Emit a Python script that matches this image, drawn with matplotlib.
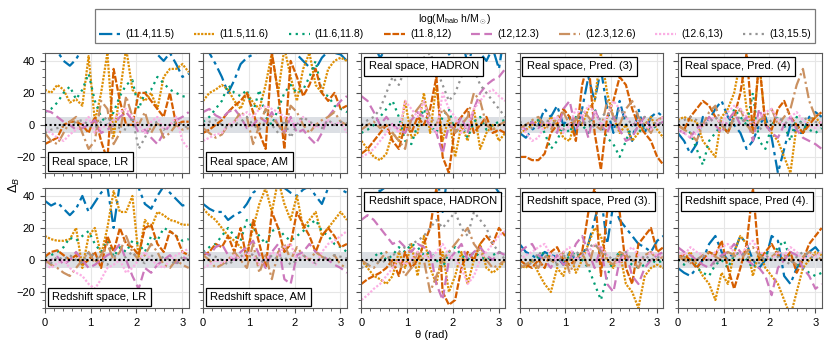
import numpy as np
import matplotlib.pyplot as plt

plt.rcParams['font.family'] = ['Liberation Sans', 'DejaVu Sans']
plt.rcParams['mathtext.fontset'] = 'custom'
plt.rcParams['mathtext.rm'] = 'Liberation Sans'
plt.rcParams['mathtext.it'] = 'Liberation Sans:italic'

bins = ["(11.4,11.5)", "(11.5,11.6)", "(11.6,11.8)", "(11.8,12)",
        "(12,12.3)", "(12.3,12.6)", "(12.6,13)", "(13,15.5)"]
colors = ['#0173b2', '#de8f05', '#029e73', '#d55e00',
          '#cc78bc', '#ca9161', '#fbafe4', '#949494']
styles = [(0, (6, 2, 1.5, 2)), (0, (1, 0.6)), (0, (1, 2)), (0, (3, 0.8)),
          (0, (4, 2)), (0, (5, 1.5, 1, 1.5)), (0, (1, 0.8)), (0, (1, 1.8))]

theta = np.linspace(0, np.pi, 24)

# values of Delta_B per mass bin, one list per bin
real_lr = [
    [50, 48, 46, 40, 37, 41, 48, 55, 60, 58, 52, 55, 60, 50, 48, 55, 50, 47, 44, 40, 45, 38, 30, 32],
    [22, 20, 25, 22, 14, 16, 12, 43, 2, 20, 45, -8, 20, 48, 22, 18, 15, 20, 10, 30, 35, 35, 38, 33],
    [8, 10, 14, 20, 24, 16, 22, 32, 15, 5, 0, 8, 18, 25, 28, 10, 20, 22, 30, 26, 22, 20, 18, 17],
    [-12, -10, -8, 0, 2, 2, 0, -5, 5, -10, -22, 35, 15, 0, 0, 20, 20, 15, 10, 5, 20, 0, 2, 2],
    [9, 8, 5, 2, 0, -3, -2, 0, 3, -5, -3, 0, 5, 8, 3, -5, -3, -8, -12, -5, 0, 3, 5, 8],
    [-5, -10, -12, -5, 2, 5, -5, -15, -10, 15, 10, -12, -5, 18, 5, 0, 8, -5, 2, -8, -5, 0, -3, -2],
    [-3, -5, -8, -10, -6, -3, 0, 5, -5, -2, 0, 3, 8, 10, 5, 0, -5, 2, 5, -3, 0, 5, -10, -15],
    [-5, -3, -2, 0, 0, 2, 3, 0, -2, 2, 5, 0, -2, -3, 5, -15, -8, 0, 2, -3, 0, 2, 0, -2],
]
real_am = [
    [48, 45, 38, 30, 20, 28, 38, 42, 44, 46, 48, 50, 52, 50, 48, 44, 40, 36, 35, 42, 46, 45, 44, 40],
    [15, 20, 22, 25, 22, 15, 10, 20, 14, 10, 25, 45, 20, 48, 30, 15, 35, 45, 25, 20, 35, 40, 42, 40],
    [2, 5, 10, 15, 25, 20, 18, 22, 8, 22, 5, 0, 10, 20, 25, 20, 22, 30, 40, 20, 18, 12, 10, 8],
    [-5, -3, 0, 3, 8, 12, 15, 20, 8, -5, -15, 45, 20, -15, 40, 30, 18, 25, 35, 20, 15, 20, 10, 12],
    [8, 10, 6, 4, 8, 10, 5, -2, 0, 5, 2, 8, 0, -5, 5, -5, -3, -8, -12, -5, 5, 10, 15, 18],
    [-2, -5, -8, -6, 0, 2, 8, 5, -12, 0, 10, 5, 0, -5, 12, 8, 0, -5, 0, 3, 5, 8, 2, 0],
    [-10, -8, -6, -5, 0, 2, 5, 8, 5, 10, 12, 10, 8, 5, 3, 0, 5, 2, -2, 0, 3, 0, 2, -5],
    [0, 2, 3, 0, -2, 0, 2, 5, 0, -3, 2, 0, -5, 3, -8, 0, 5, 2, 0, -2, 3, 0, 2, 1],
]
real_hadron = [
    [60, 55, 50, 42, 48, 55, 60, 65, 60, 55, 58, 60, 55, 50, 44, 48, 55, 38, 50, 45, 40, 48, 35, 60],
    [-10, -15, -20, -22, -18, -5, -10, 15, -8, -5, 20, -5, 25, -10, 5, -20, 0, -10, 10, -15, -5, 0, -10, -5],
    [-5, -3, 0, 5, 10, 15, 5, -10, -12, 0, 10, 0, -5, 5, 10, -5, 0, -8, 2, 5, -3, 0, 2, 3],
    [-18, -15, -10, -5, 0, -10, -15, 0, -5, 5, 0, 10, 30, -20, -30, 0, 5, 10, -5, 0, 5, -5, -3, -5],
    [18, 15, 8, 0, 5, 0, -3, -5, 3, 8, 5, 0, -5, -18, 0, -3, 5, -5, 10, 20, 25, 28, 30, 35],
    [-3, 0, 2, -2, 0, -5, -10, -15, 5, 10, 15, 5, 0, 10, 5, -5, 0, 5, 20, 15, 0, -3, 0, 2],
    [-20, -18, -15, -10, -5, 0, -5, 15, 10, 5, 15, 0, -5, 20, 10, 5, -5, 0, 10, 15, 20, 22, 18, 15],
    [0, 3, 5, 10, 20, 30, 25, 35, 40, 38, 42, 45, 35, 25, 15, 20, 30, 45, 35, 25, 20, 15, 10, 5],
]
real_pred3 = [
    [-5, -8, -3, 0, 10, 5, 12, 0, 5, -5, 10, 30, 15, 35, 10, -5, 15, 0, -10, 10, -5, 5, 8, 5],
    [-5, -3, 0, 3, -2, 5, 0, -8, -10, 5, 0, 10, 15, 45, 20, 5, -5, 0, -10, -5, 0, 5, -3, -8],
    [-3, 0, 2, 3, -5, -15, -10, 0, -5, 5, 0, -5, 10, 0, -8, -12, -20, -10, 0, -5, 0, -3, 0, 2],
    [-20, -20, -22, -22, -18, -5, 0, 10, 5, -10, 25, 40, -5, -28, 5, 15, 30, 25, 10, 0, -5, -10, -20, -25],
    [0, -3, 2, -2, 3, 0, -5, 10, 15, -3, 5, -8, 10, 0, -5, 5, -3, -10, -8, 0, 5, -2, 0, 2],
    [-2, 0, 3, 5, 0, -3, 5, 8, 0, 3, 10, 5, 0, -3, 15, 5, 0, 10, 15, 5, 0, -5, 3, 5],
    [0, -5, -10, -8, 0, 3, 5, -5, 0, 10, 5, 12, 8, 0, 5, 15, 10, 5, 0, 3, 0, -3, 2, 5],
    [2, 0, -2, 0, 3, 2, 0, -3, 2, 5, 0, 3, -2, 5, 8, 3, 10, 5, 0, 2, 5, 3, 0, 2],
]
real_pred4 = [
    [-5, -10, -18, -12, 5, 3, 10, 15, 5, 0, -5, -15, -10, 0, 5, -8, -30, -15, 0, -5, -5, 5, 8, 5],
    [3, 5, 3, 2, -10, -15, -20, 5, 10, 20, 40, 10, -5, 40, 0, -5, -10, -20, -30, 0, -5, 3, 5, 0],
    [0, -2, -5, -15, -25, -10, -5, 0, -5, 10, 5, 0, 20, -10, -15, 0, 5, 0, -10, 5, 0, -3, -5, -2],
    [0, -3, 5, 10, 15, 12, 5, 0, -5, 5, 20, 45, -5, 40, 0, -3, 10, 15, 5, 0, -5, 0, 5, 8],
    [-3, -5, -8, -2, 0, 5, 0, -5, 3, 8, 0, 5, -10, 10, 0, -5, -8, 0, 5, -3, -8, -10, -12, -15],
    [0, -3, -5, -10, 0, 8, 12, 0, -5, 5, 10, 0, -5, 3, 5, 10, 0, 5, 10, 25, 35, 15, 5, 8],
    [-3, -5, -8, -5, 0, 3, 5, 0, 8, 12, 10, 5, 0, 5, 8, 10, 3, 0, 5, 8, 3, 0, -2, 2],
    [2, 3, 5, 3, 0, 2, 5, 0, -2, 3, 5, 0, 2, -3, 0, 3, 5, 2, 0, -2, 3, 5, 2, 0],
]
red_lr = [
    [37, 34, 36, 32, 28, 32, 40, 30, 36, 42, 46, 20, 48, 50, 46, 45, 35, 32, 40, 46, 42, 38, 34, 35],
    [15, 13, 12, 12, 13, 20, -5, 15, 20, 3, 20, 43, 30, 30, 40, 2, 25, 20, 30, 28, 25, 24, 22, 22],
    [2, 3, 5, 8, 14, 12, 15, 18, 10, 5, 12, 2, 8, 5, 12, 10, 5, 15, 12, 20, 18, 15, 12, 13],
    [2, 5, 6, 3, 0, 3, -3, 0, 5, -5, 15, 5, 20, 10, 8, 3, 20, 22, 10, 5, 18, 15, 5, 3],
    [-2, 0, 2, -3, 0, 5, 0, -5, -3, 0, 3, 5, 10, 0, -10, -18, -5, -8, -3, 0, 3, -2, 2, 0],
    [0, -3, -5, -8, -10, -5, 0, 5, -2, 3, 10, 0, 5, 15, 5, 0, 3, 10, 5, -3, -5, 0, -3, -5],
    [-3, -5, -2, 0, -5, -8, -10, -15, -18, -12, -5, -3, 0, -8, -5, 0, 5, 0, -3, -5, 0, 3, 5, 7],
    [0, -2, 2, 0, 3, 0, -2, 5, 2, 0, -3, 3, 0, 2, 5, 0, -2, 3, 0, 2, 0, -3, 2, 0],
]
red_am = [
    [35, 32, 30, 30, 25, 28, 30, 35, 42, 45, 48, 50, 48, 45, 42, 40, 44, 46, 40, 35, 45, 48, 44, 42],
    [32, 28, 25, 20, 15, 12, 8, 5, 20, 35, 45, 30, 50, 35, 25, 40, 20, 25, 30, 15, 20, 25, 30, 25],
    [5, 8, 10, 15, 20, 15, 12, 25, 20, 15, 10, 18, 20, 15, 12, 15, 18, 22, 25, 18, 15, 10, 8, 5],
    [3, 5, 10, 8, 15, 5, 20, 0, 25, 10, -5, 30, 20, 5, 10, 30, 22, 15, 5, 15, 20, 15, 8, 10],
    [5, 3, 8, 10, 3, 0, 5, 8, 12, 3, -5, 5, 10, -12, -15, 3, 5, 10, 5, 3, 0, -3, -5, -8],
    [3, 0, -5, -3, 0, 5, 0, -5, 10, -8, 3, -12, 5, 10, 0, 8, 3, 0, 5, 2, 0, 3, -3, -5],
    [-5, -3, 0, -2, 0, 3, 0, 5, 3, -3, 0, 5, 3, 8, 10, 0, 3, 0, -3, 5, 10, 12, 15, 18],
    [5, 3, 2, 0, -3, 0, 2, 5, 3, 0, -2, 3, 0, 2, -3, 0, 3, 0, -2, 2, 0, 3, 2, 1],
]
red_hadron = [
    [55, 50, 45, 43, 46, 50, 55, 60, 55, 50, 48, 60, 55, 30, 60, 55, 50, 48, 45, 50, 55, 48, 42, 40],
    [0, -5, -10, -12, -15, -10, 5, -5, 10, -10, 15, -5, -15, 5, -20, -10, 5, -15, 0, 10, -5, -8, -5, 0],
    [0, -3, 2, 5, 0, 3, 8, 5, 10, 8, 3, 5, 0, -5, 5, 8, 3, 0, 5, 2, 0, 3, 5, 3],
    [-15, -12, -10, -8, -5, 0, -10, 5, -5, 0, 10, 20, 45, -20, -28, -25, -5, 5, 0, 10, 15, 10, 20, 15],
    [25, 28, 25, 20, 15, 10, 12, 8, 5, 10, 8, 5, -15, -25, 0, 5, 10, 0, 5, 8, 3, 0, 5, 3],
    [0, -3, -5, 0, 5, -5, 0, -10, -5, 5, 0, -20, -10, 0, 5, 10, 15, 20, 10, 5, 0, -5, -3, 0],
    [-25, -22, -18, -15, -10, -5, 0, -3, 0, 5, 3, 0, 5, 10, 3, 0, -5, -15, -10, 0, 5, 10, 15, 18],
    [-5, -3, 0, -2, 0, 3, 5, 8, 10, 12, 15, 20, 25, 20, 25, 30, 20, 15, 30, 25, 20, 10, 5, 0],
]
red_pred3 = [
    [10, 5, 3, 0, 5, 3, 2, -3, 5, 0, 3, 10, 25, 40, 10, 35, 25, 20, 15, 10, 8, 5, 12, 15],
    [-3, -5, 0, -8, -15, -20, -5, -10, 5, -8, 0, 10, 20, 15, 0, -5, 5, -15, -20, -30, -10, -5, -3, -5],
    [-5, -3, 0, 2, 5, 0, -3, 0, 2, 5, 0, -5, -15, -25, -10, 0, 5, 0, -3, -5, -3, 0, -2, 0],
    [0, -3, -5, 0, -5, 5, 8, 0, -3, 0, 5, 30, 45, -10, 30, 35, 30, -5, -15, 10, 15, 20, 5, 8],
    [5, 8, 10, 3, 0, -5, 3, -3, 0, 10, 15, 5, -5, 8, -15, -20, 0, 5, -10, -15, -5, 0, 3, 5],
    [-5, -3, 0, -5, 3, 0, -3, 5, -8, 0, 5, -5, 10, 5, 0, -3, 5, 3, 0, -5, 3, 5, 0, 2],
    [0, 3, 5, 8, 10, 3, 0, 5, 8, 0, 3, 5, 10, 8, 3, 0, -3, 5, 8, 3, 0, 5, 3, 2],
    [3, 0, -3, 5, 2, 0, -2, 3, 0, 5, 3, 8, 10, 5, 3, 0, 2, 5, 0, -2, 3, 0, 2, 0],
]
red_pred4 = [
    [-5, -8, -10, -5, 0, 10, 15, 5, 0, 5, 15, 10, 0, -5, 0, 15, 12, -10, -15, -5, 0, 5, 8, 3],
    [2, 0, 5, -3, -10, -15, -25, -8, -15, 5, 15, 10, -10, 5, -5, -10, -15, -25, -35, -20, -5, 0, 5, 3],
    [0, -3, 2, -5, -8, -10, -3, 0, -5, 3, 5, 0, -5, 2, 5, 0, 8, 12, 0, -3, -5, -8, -10, -8],
    [2, 3, 0, -5, 0, 5, 3, 12, -5, -18, -5, 10, 45, 0, 5, 10, 3, 0, 5, -8, 0, 10, 15, 20],
    [8, 5, 3, 0, -3, -5, 0, 3, 5, 10, 5, 0, -3, -5, -10, -22, -5, 0, 5, 3, -5, -10, -18, -15],
    [3, 0, -2, 0, 3, 5, 2, 0, 5, 3, 0, 5, 8, 3, 0, 2, 5, 3, 0, -3, 2, 5, 3, 0],
    [5, 3, 8, 5, 3, 0, 5, 8, 10, 5, 3, 8, 12, 5, 3, 0, 5, 3, 8, 5, 0, 3, 2, 5],
    [0, 2, -2, 0, 3, 0, -3, 2, 0, 3, 5, 2, 0, -2, 3, 0, 2, 0, -3, 2, 5, 3, 0, 2],
]

panels = [[real_lr, real_am, real_hadron, real_pred3, real_pred4],
          [red_lr, red_am, red_hadron, red_pred3, red_pred4]]
titles = [["Real space, LR", "Real space, AM", "Real space, HADRON",
           "Real space, Pred. (3)", "Real space, Pred. (4)"],
          ["Redshift space, LR", "Redshift space, AM", "Redshift space, HADRON",
           "Redshift space, Pred (3).", "Redshift space, Pred (4)."]]

fig, axes = plt.subplots(2, 5, figsize=(8.3, 3.48), dpi=100, sharex=True, sharey=True)
fig.subplots_adjust(left=0.054, right=0.99, top=0.848, bottom=0.115,
                    wspace=0.1, hspace=0.125)

for r in range(2):
    for c in range(5):
        ax = axes[r, c]
        ax.axhspan(-5, 5, color='#dcdfe4', zorder=0, lw=0)
        ax.grid(True, color='#e6e6e6', lw=0.8, zorder=0)
        for k in range(8):
            ax.plot(theta, panels[r][c][k], color=colors[k], ls=styles[k],
                    lw=1.6, label=bins[k])
        ax.axhline(0, color='black', ls=(0, (1, 1.2)), lw=1.5, zorder=5)
        ax.set_xlim(0, np.pi)
        ax.set_ylim(-30, 45)
        ax.set_yticks([-20, 0, 20, 40])
        ax.set_xticks([0, 1, 2, 3])
        ax.minorticks_on()
        ax.tick_params(which='both', direction='out', labelsize=8, color='0.3')
        ax.tick_params(which='major', length=3.5)
        ax.tick_params(which='minor', length=2)
        for s in ax.spines.values():
            s.set_color('0.35')
        ypos, va = (0.05, 'bottom') if c < 2 else (0.93, 'top')
        ax.text(0.05, ypos, titles[r][c], transform=ax.transAxes, fontsize=8,
                va=va, ha='left', zorder=10,
                bbox=dict(boxstyle='square,pad=0.4', fc='white', ec='black', lw=0.9))

handles, labels = axes[0, 0].get_legend_handles_labels()
leg = fig.legend(handles, labels, loc='upper center', bbox_to_anchor=(0.548, 0.99),
                 ncol=8, fontsize=7.5, title=r'log(M$_{\rm halo}$ h/M$_\odot$)',
                 title_fontsize=7.5, fancybox=False, edgecolor='0.35',
                 handlelength=2.0, columnspacing=1.9, borderpad=0.4,
                 labelspacing=0.2, handletextpad=0.5)
leg.get_frame().set_linewidth(0.9)

fig.text(0.018, 0.468, r'$\Delta_B$', rotation=90, va='center', ha='center', fontsize=9)
fig.text(0.52, 0.038, 'θ (rad)', va='center', ha='center', fontsize=8)

fig.savefig("out.png", dpi=100)
